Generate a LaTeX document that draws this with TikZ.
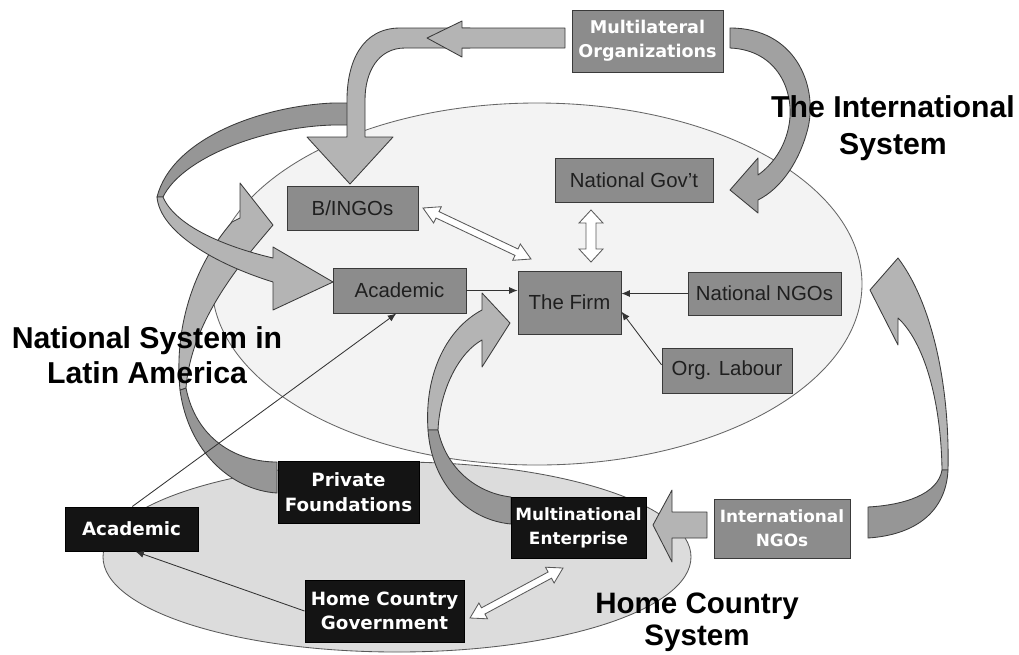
\documentclass[tikz,border=0pt]{standalone}
\usepackage{fontspec}
\setmainfont{Liberation Sans}
\newfontfamily\boxfont{DejaVu Sans}
\usetikzlibrary{arrows.meta,calc}
\definecolor{boxgray}{HTML}{8C8C8C}
\definecolor{arrlight}{HTML}{B4B4B4}
\definecolor{arrdark}{HTML}{969696}
\definecolor{edgec}{HTML}{3A3A3A}
\definecolor{bigell}{HTML}{F3F3F3}
\definecolor{homeell}{HTML}{DCDCDC}
\tikzset{
  wh/.style 2 args={minimum width={#1*0.025cm}, minimum height={#2*0.025cm}},
  gbox/.style={draw=edgec, fill=boxgray, line width=0.7pt, inner sep=0pt, align=center,
    text=black!88, font=\fontsize{14.5}{16}\selectfont},
  gwbox/.style={gbox, text=white, font=\boxfont\bfseries\fontsize{12.5}{17}\selectfont},
  bbox/.style={draw=black, fill=black!92, line width=0.7pt, inner sep=0pt, align=center,
    text=white, font=\boxfont\bfseries\fontsize{13}{17.5}\selectfont},
  blk/.style={fill=arrlight, draw=edgec, line width=0.6pt, line join=round},
  blkd/.style={blk, fill=arrdark},
  lnk/.style={draw=black!80, line width=0.6pt, -{Latex[length=6pt,width=5pt]}},
  hollow/.style={fill=white, draw=black!65, line width=0.6pt, line join=miter},
  syslabel/.style={font=\bfseries\fontsize{21.5}{25}\selectfont, align=center, inner sep=0pt},
}
\begin{document}
\begin{tikzpicture}[x=0.025cm,y=-0.025cm]
\fill[white] (0,0) rectangle (1019,654);
\useasboundingbox (0,0) rectangle (1019,654);

% system ellipses
\fill[bigell] (537,284) ellipse [x radius=325, y radius=181];
\fill[homeell] (397,557) ellipse [x radius=294, y radius=95];
\draw[black!60, line width=0.6pt] (537,284) ellipse [x radius=325, y radius=181];
\draw[black!65, line width=0.6pt] (397,557) ellipse [x radius=294, y radius=95];

% private foundations -> up (arrow behind the loop)
\path[blkd] (277,493) .. controls (230,490) and (188,450) .. (180,390) -- (186,388)
  .. controls (196,438) and (235,462) .. (277,462) -- cycle;
\path[blk] (180,390) .. controls (174,330) and (192,268) .. (232,222) -- (240,218) -- (240,183)
  -- (273,225) -- (262,238) .. controls (222,285) and (190,335) .. (186,388) -- cycle;

% big loop to Academic
\path[blkd] (358,103) -- (333,103) .. controls (262,106) and (172,138) .. (157,197) -- (163,197)
  .. controls (182,158) and (262,127) .. (333,125) -- (358,125) -- cycle;
\path[blk] (157,197) .. controls (160,232) and (215,264) .. (273,282) -- (273,310) -- (333,282)
  -- (273,247) -- (273,258) .. controls (222,246) and (175,225) .. (163,197) -- cycle;

% multilateral -> B/INGOs
\path[blk] (470,28) -- (400,28) .. controls (362,28) and (347,62) .. (347,100) -- (347,137)
  -- (307,137) -- (350,184) -- (393,137) -- (365,137) -- (365,100)
  .. controls (365,72) and (378,48) .. (405,48) -- (470,48) -- cycle;
\path[blk] (565,28) -- (462,28) -- (462,21) -- (427,38) -- (462,57) -- (462,48) -- (565,48) -- cycle;

% multilateral -> National Gov't
\path[blk, fill=black!37] (730,28) .. controls (795,28) and (818,85) .. (808,128)
  .. controls (800,160) and (782,188) .. (758,200) -- (758,213) -- (730,190) -- (758,158) -- (758,175)
  .. controls (772,165) and (785,148) .. (789,125) .. controls (795,92) and (778,50) .. (730,48) -- cycle;

% MNE -> The Firm
\path[blk] (428,430) .. controls (424,372) and (448,328) .. (482,310) -- (482,293) -- (510,323)
  -- (482,367) -- (482,340) .. controls (460,352) and (440,388) .. (438,430) -- cycle;
\path[blkd] (428,430) .. controls (432,485) and (468,520) .. (511,524) -- (511,497)
  .. controls (476,493) and (446,468) .. (438,430) -- cycle;

% International NGOs -> MNE
\path[blk] (707,512) -- (672,512) -- (672,490) -- (653,525) -- (672,562) -- (672,538) -- (707,538) -- cycle;

% International NGOs -> National NGOs
\path[blk] (948,470) .. controls (950,380) and (930,300) .. (898,258) -- (870,290) -- (898,345)
  -- (898,318) .. controls (924,342) and (941,400) .. (942,470) -- cycle;
\path[blkd] (948,470) .. controls (946,512) and (915,535) .. (868,538) -- (868,507)
  .. controls (905,505) and (938,494) .. (942,470) -- cycle;

% boxes
\node[gwbox, wh={151}{62}] (multi) at (647.5,41) {Multilateral\\Organizations};
\node[gbox, wh={131}{44}] (bingo) at (352.5,208) {B/INGOs};
\node[gbox, wh={158}{44}] (ngov) at (634,180) {National Gov't};
\node[gbox, wh={133}{45}] (nacad) at (399.5,290.5) {Academic};
\node[gbox, wh={103}{63}] (firm) at (569.5,302.5) {The Firm};
\node[gbox, wh={153}{43}] (nngo) at (764.5,293.5) {National NGOs};
\node[gbox, wh={130}{45}] (labour) at (727,370.5) {Org. Labour};
\node[bbox, wh={141}{62}] (pf) at (348.5,492) {Private\\Foundations};
\node[bbox, wh={133}{44}] (hacad) at (131.5,529) {Academic};
\node[bbox, wh={159}{62}] (hgov) at (384.5,611) {Home Country\\Government};
\node[bbox, wh={135}{61}, font=\boxfont\bfseries\fontsize{12}{17}\selectfont] (mne) at (578.5,527.5) {Multinational\\Enterprise};
\node[gwbox, wh={136}{59}, font=\boxfont\bfseries\fontsize{12}{17}\selectfont] (ingo) at (782,528.5) {International\\NGOs};

% thin connectors
\draw[lnk] (nacad.east) -- (nacad.east -| firm.west);
\draw[lnk] (nngo.west) -- (nngo.west -| firm.east);
\draw[lnk] (labour.175) -- (firm.-10);
\draw[lnk] (hacad.88) -- (nacad.262);
\draw[lnk] (hgov.west) -- (hacad.-80);

% hollow double arrows
\path[hollow] (423,208) -- (441.3,206.7) -- (439.0,211.6) -- (518.0,249.0) -- (520.3,244.0) -- (531,259)
  -- (512.7,260.3) -- (515.0,255.4) -- (436.0,218.0) -- (433.6,223.0) -- cycle;
\path[hollow] (591,210) -- (603,223) -- (596,223) -- (596,249) -- (603,249) -- (591,262)
  -- (579,249) -- (586,249) -- (586,223) -- (579,223) -- cycle;
\path[hollow] (470,618) -- (487.5,618.8) -- (484.9,614.0) -- (551.5,578.2) -- (554.1,583.0) -- (563,568)
  -- (545.5,567.2) -- (548.1,572.0) -- (481.5,607.8) -- (478.9,603.0) -- cycle;

% system labels
\node[syslabel, font=\bfseries\fontsize{21.5}{26}\selectfont] (intl) at (893,128) {The International\\System};
\node[syslabel, font=\bfseries\fontsize{21.5}{25}\selectfont] (natl) at (147,355) {National System in\\Latin America};
\node[syslabel, font=\bfseries\fontsize{21}{23}\selectfont] (home) at (697,622) {Home Country\\System};
\end{tikzpicture}
\end{document}
